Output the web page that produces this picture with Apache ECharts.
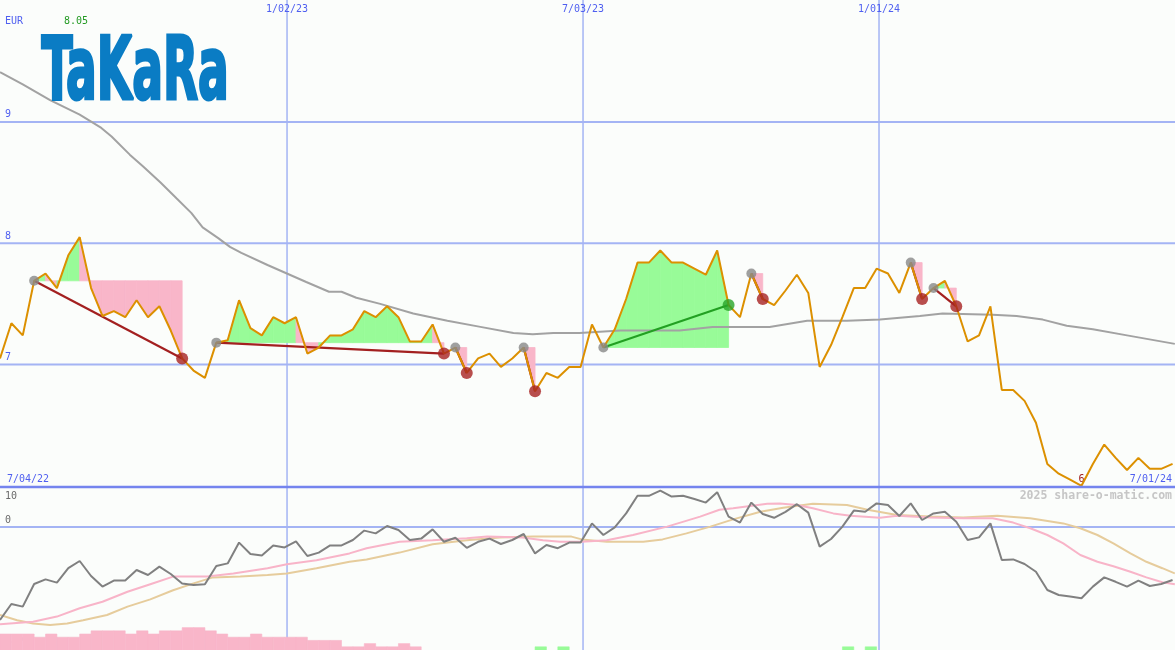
<!DOCTYPE html>
<html><head><meta charset="utf-8">
<script src="https://cdn.jsdelivr.net/npm/echarts@6/dist/echarts.min.js"></script>
<style>html,body{margin:0;padding:0;background:#fbfdfb;}#c{width:1175px;height:650px;}</style>
</head><body><div id="c"></div><script>
// ---------- DATA ----------
const firstWeek = '2022-07-09T12:00:00Z';
const rangeStartLabel = '7/04/22';
const rangeEndLabel = '7/01/24';
const rangeEnd = '2024-07-01T00:00:00Z';
const dateTickDates = ['2023-01-02T00:00:00Z','2023-07-03T00:00:00Z','2024-01-01T00:00:00Z'];
const dateTickLabels = ['1/02/23','7/03/23','1/01/24'];
const currency = 'EUR';
const logoText = 'TaKaRa';
const watermark = '2025 share-o-matic.com';
const priceTicks = [9, 8, 7];
const lowerTicks = [10, 0, -30];

const price = [7.05,7.34,7.24,7.69,7.75,7.63,7.90,8.05,7.63,7.40,
  7.44,7.39,7.53,7.39,7.48,7.28,7.05,6.95,6.89,7.18,
  7.20,7.53,7.30,7.24,7.39,7.34,7.39,7.09,7.14,7.24,
  7.24,7.29,7.44,7.39,7.48,7.39,7.19,7.19,7.33,7.09,
  7.14,6.93,7.05,7.09,6.98,7.05,7.14,6.78,6.93,6.89,
  6.98,6.98,7.33,7.14,7.29,7.54,7.84,7.84,7.94,7.84,
  7.84,7.79,7.74,7.94,7.49,7.39,7.75,7.54,7.49,7.61,
  7.74,7.59,6.98,7.16,7.39,7.63,7.63,7.79,7.75,7.59,
  7.84,7.54,7.63,7.69,7.48,7.19,7.24,7.48,6.79,6.79,
  6.70,6.52,6.18,6.10,6.05,6.00,6.18,6.34,6.23,6.13,
  6.23,6.14,6.14,6.18];

const priceAvg = [[0,9.41],[2.0,9.31],[4.4,9.18],[7.0,9.06],[8.9,8.95],[9.8,8.88],[11.4,8.73],[12.6,8.63],[14.1,8.50],[15.5,8.37],[16.8,8.25],[17.8,8.13],[19.2,8.04],[20.2,7.97],[21.2,7.92],[23.5,7.82],[25.2,7.75],[26.9,7.68],[28.9,7.60],[30.0,7.60],[31.3,7.55],[33.4,7.50],[36.3,7.42],[39.3,7.36],[42.2,7.31],[45.1,7.26],[46.8,7.25],[48.6,7.26],[50.9,7.26],[54.5,7.28],[59.7,7.28],[62.6,7.31],[67.6,7.31],[70.9,7.36],[74.4,7.36],[77.3,7.37],[80.8,7.40],[82.8,7.42],[87.2,7.41],[89.3,7.40],[91.6,7.37],[93.7,7.32],[96.0,7.29],[99.0,7.24],[103.2,7.17]];

const tradeStart = [3, 19, 40, 46, 53, 66, 80, 82];
const tradeEnd   = [16, 39, 41, 47, 64, 67, 81, 84];

const strength = [-23.25,-19.25,-19.9,-14.25,-13.1,-13.9,-10.3,-8.5,-12.25,-14.9,
  -13.4,-13.4,-10.75,-12,-9.9,-11.75,-14.1,-14.5,-14.3,-9.75,
  -9.1,-3.9,-6.75,-7.1,-4.6,-5.1,-3.6,-7.25,-6.4,-4.6,
  -4.6,-3.25,-0.9,-1.6,0.25,-0.75,-3.25,-2.9,-0.6,-3.7,
  -2.7,-5.2,-3.7,-2.9,-4.25,-3.25,-1.75,-6.6,-4.5,-5.3,
  -3.9,-3.9,0.9,-2.0,-0.1,3.4,7.8,7.8,9.1,7.6,
  7.8,7.0,6.1,8.7,2.6,1.1,6.1,3.25,2.3,3.8,
  5.7,3.6,-4.9,-3.0,0.1,4.1,3.8,5.9,5.5,2.75,
  5.9,1.75,3.4,3.8,1.3,-3.25,-2.6,0.9,-8.25,-8.1,
  -9.25,-11.2,-15.75,-17,-17.4,-17.8,-14.9,-12.6,-13.7,-14.9,
  -13.4,-14.75,-14.25,-13.25];

const strengthAvgFast = [[0,-24.3],[2.9,-23.7],[5.0,-22.4],[7.0,-20.3],[9.0,-18.7],[11.2,-16.2],[13.2,-14.3],[15.2,-12.4],[18.2,-12.4],[20.5,-11.6],[23.5,-10.3],[25.2,-9.3],[27.8,-8.3],[30.7,-6.6],[32.2,-5.3],[35.1,-3.7],[38.0,-3.3],[41.0,-2.8],[42.8,-2.4],[45.9,-2.6],[47.7,-3.3],[49.2,-3.7],[51.1,-3.7],[53.3,-3.3],[55.6,-2.0],[58.6,0.1],[61.5,2.6],[63.2,4.3],[64.4,4.7],[67.4,5.8],[68.5,5.9],[70.0,5.5],[71.4,4.7],[73.2,3.4],[74.7,2.8],[77.3,2.3],[78.8,2.8],[81.7,2.4],[84.6,2.2],[87.2,2.2],[89.0,1.1],[90.5,-0.3],[92.0,-2.0],[93.4,-4.1],[94.9,-7.0],[96.4,-8.7],[97.8,-9.8],[99.3,-11.2],[100.7,-12.6],[102.1,-13.8],[103.2,-14.3]];

const strengthAvgSlow = [[0,-22],[1.5,-23.3],[2.9,-24.1],[4.4,-24.5],[5.9,-24.1],[7.3,-23.3],[9.4,-22],[11.2,-19.9],[13.2,-18.1],[15.2,-15.8],[17.0,-14.1],[18.7,-12.6],[21.1,-12.4],[23.5,-12],[25.2,-11.6],[27.8,-10.3],[30.7,-8.7],[32.2,-8.1],[35.1,-6.4],[38.0,-4.3],[41.0,-3.3],[43.9,-2.6],[46.8,-2.4],[50.2,-2.4],[51.1,-3.1],[53.3,-3.7],[56.5,-3.7],[58.2,-3.1],[60.3,-1.6],[62.4,0.1],[64.4,1.9],[66.8,3.8],[68.8,4.8],[71.4,5.8],[74.4,5.5],[76.2,4.3],[78.8,3.0],[81.7,2.6],[84.6,2.4],[87.6,2.8],[90.5,2.2],[93.4,0.9],[94.9,-0.3],[96.4,-2.0],[97.8,-4.1],[99.3,-6.6],[100.7,-8.7],[102.1,-10.3],[103.2,-11.6]];

const signalBars = [-5,-5,-5,-4,-5,-4,-4,-5,-6,-6,-6,-5,-6,-5,-6,-6,-7,-7,-6,-5,
  -4,-4,-5,-4,-4,-4,-4,-3,-3,-3,-1,-1,-2,-1,-1,-2,-1,0,0,0,
  0,0,0,0,0,0,0,1,0,1,0,0,0,0,0,0,0,0,0,0,
  0,0,0,0,0,0,0,0,0,0,0,0,0,0,1,0,1,0,0,0,
  0,0,0,0,0,0,0,0,0,0,0,0,0,0,0,0,0,0,0,0,
  0,0,0,0];

// ---------- BUILD ----------
const DAY = 86400000;
const weekOf = d => (Date.parse(d) - Date.parse(firstWeek)) / (7 * DAY);
const xMax = weekOf(rangeEnd);
const dateTickPos = dateTickDates.map(weekOf);

const C = {
  grid: '#a4b4f4', sep: '#7484ee', blueText: '#4f5ff0', grayText: '#6a6a6a',
  pink: '#f9b6c9', green: '#98fb98', orange: '#dc9000', ma: '#a2a2a2',
  lossLine: '#a32020', winLine: '#22a022', lossDot: '#a82222', winDot: '#28a428', startDot: '#888888',
  strength: '#808080', fast: '#f8b4c8', slow: '#e6cc9c'
};
const MONO = '"DejaVu Sans Mono","Liberation Mono",monospace';

const fillSegs = [];
const tradeLines = [];
const endDots = [];
tradeStart.forEach((s, k) => {
  const e = tradeEnd[k], level = price[s];
  for (let i = s; i < e; i++) fillSegs.push([i, price[i], price[i + 1], level]);
  const win = price[e] > level;
  tradeLines.push([s, price[s], e, price[e], win ? 1 : 0]);
  endDots.push({ value: [e, price[e]], itemStyle: { color: win ? C.winDot : C.lossDot } });
});

const priceMax = Math.max(...price);

const chart = echarts.init(document.getElementById('c'), null, { renderer: 'canvas', width: 1175, height: 650 });

const xAx = gi => ({ type: 'value', gridIndex: gi, min: 0, max: xMax, show: false });

function vLines(withLabels) {
  return function (params, api) {
    const cs = params.coordSys;
    const x = api.coord([api.value(0), 0])[0];
    const ch = [{ type: 'line', shape: { x1: x, y1: cs.y, x2: x, y2: cs.y + cs.height }, style: { stroke: C.grid, lineWidth: 1.5 } }];
    if (withLabels) ch.push({ type: 'text', style: { text: dateTickLabels[params.dataIndex], x: x, y: 9, fill: C.blueText, font: '10px ' + MONO, textAlign: 'center', textVerticalAlign: 'middle' } });
    return { type: 'group', children: ch };
  };
}

const option = {
  animation: false,
  backgroundColor: '#fbfdfb',
  grid: [
    { left: 0, right: 0, top: 0, height: 487 },
    { left: 0, right: 0, top: 487, height: 163 },
    { left: 0, right: 0, top: 487, height: 163 }
  ],
  xAxis: [xAx(0), xAx(1), xAx(2)],
  yAxis: [
    { type: 'value', gridIndex: 0, min: 5.99, max: 10.005, show: false },
    { type: 'value', gridIndex: 1, min: -30.75, max: 10, show: false },
    { type: 'value', gridIndex: 2, min: 0, max: 51, show: false }
  ],
  series: [
    { type: 'custom', xAxisIndex: 0, yAxisIndex: 0, z: 1, silent: true,
      data: priceTicks.map(v => [0, v]),
      renderItem(params, api) {
        const cs = params.coordSys, v = api.value(1), y = api.coord([0, v])[1];
        return { type: 'group', children: [
          { type: 'line', shape: { x1: cs.x, y1: y, x2: cs.x + cs.width, y2: y }, style: { stroke: C.grid, lineWidth: 2 } },
          { type: 'text', style: { text: String(v), x: 5, y: y - 2, fill: C.blueText, font: '10px ' + MONO, textVerticalAlign: 'bottom' } }
        ] };
      } },
    { type: 'custom', xAxisIndex: 0, yAxisIndex: 0, z: 1, silent: true, data: dateTickPos.map(p => [p, 0]), renderItem: vLines(true) },
    { type: 'custom', xAxisIndex: 1, yAxisIndex: 1, z: 1, silent: true, data: dateTickPos.map(p => [p, 0]), renderItem: vLines(false) },
    { type: 'custom', xAxisIndex: 1, yAxisIndex: 1, z: 1, silent: true,
      data: lowerTicks.map(v => [0, v]),
      renderItem(params, api) {
        const cs = params.coordSys, v = api.value(1), y = api.coord([0, v])[1];
        const ch = [];
        if (v === 0) ch.push({ type: 'line', shape: { x1: cs.x, y1: y, x2: cs.x + cs.width, y2: y }, style: { stroke: C.grid, lineWidth: 2 } });
        const top = params.dataIndex === 0;
        ch.push({ type: 'text', style: { text: String(v), x: 5, y: top ? y + 4 : y - 2, fill: C.grayText, font: '10px ' + MONO, textVerticalAlign: top ? 'top' : 'bottom' } });
        return { type: 'group', children: ch };
      } },
    { type: 'custom', xAxisIndex: 0, yAxisIndex: 0, z: 2, silent: true, data: fillSegs,
      renderItem(params, api) {
        const i = api.value(0), a = api.value(1), b = api.value(2), L = api.value(3);
        const pts = [api.coord([i, L]), api.coord([i, a]), api.coord([i + 1, b]), api.coord([i + 1, L])];
        const col = b >= L ? C.green : C.pink;
        return { type: 'polygon', shape: { points: pts }, style: { fill: col, stroke: col, lineWidth: 0.8 } };
      } },
    { type: 'line', xAxisIndex: 0, yAxisIndex: 0, z: 3, data: priceAvg, showSymbol: false, silent: true,
      lineStyle: { color: C.ma, width: 2 } },
    { type: 'custom', xAxisIndex: 0, yAxisIndex: 0, z: 4, silent: true, data: tradeLines,
      renderItem(params, api) {
        const p0 = api.coord([api.value(0), api.value(1)]), p1 = api.coord([api.value(2), api.value(3)]);
        return { type: 'line', shape: { x1: p0[0], y1: p0[1], x2: p1[0], y2: p1[1] }, style: { stroke: api.value(4) ? C.winLine : C.lossLine, lineWidth: 2.2 } };
      } },
    { type: 'line', xAxisIndex: 0, yAxisIndex: 0, z: 5, data: price.map((v, i) => [i, v]), showSymbol: false, silent: true,
      lineStyle: { color: C.orange, width: 2 },
      markPoint: { symbol: 'circle', symbolSize: 0, silent: true,
        data: [{ type: 'min' }],
        label: { show: true, position: 'top', distance: 1, color: '#a02020', fontFamily: MONO, fontSize: 10,
          formatter: p => String(+(+p.value).toFixed(2)) } } },
    { type: 'scatter', xAxisIndex: 0, yAxisIndex: 0, z: 6, silent: true, symbolSize: 10,
      itemStyle: { color: C.startDot }, data: tradeStart.map(s => [s, price[s]]) },
    { type: 'scatter', xAxisIndex: 0, yAxisIndex: 0, z: 7, silent: true, symbolSize: 12, data: endDots },
    { type: 'custom', xAxisIndex: 2, yAxisIndex: 2, z: 2, silent: true, data: signalBars.map((v, i) => [i, v]),
      renderItem(params, api) {
        const i = api.value(0), v = api.value(1);
        if (!v) return { type: 'group', children: [] };
        const p0 = api.coord([i, 0]), p1 = api.coord([i + 1, Math.abs(v)]);
        const col = v < 0 ? C.pink : C.green;
        return { type: 'rect', shape: { x: p0[0], y: p1[1], width: p1[0] - p0[0], height: p0[1] - p1[1] + 2 }, style: { fill: col, stroke: col, lineWidth: 0.6 } };
      } },
    { type: 'line', xAxisIndex: 1, yAxisIndex: 1, z: 3, data: strengthAvgSlow, showSymbol: false, silent: true, lineStyle: { color: C.slow, width: 2 } },
    { type: 'line', xAxisIndex: 1, yAxisIndex: 1, z: 4, data: strengthAvgFast, showSymbol: false, silent: true, lineStyle: { color: C.fast, width: 2 } },
    { type: 'line', xAxisIndex: 1, yAxisIndex: 1, z: 5, data: strength.map((v, i) => [i, v]), showSymbol: false, silent: true, lineStyle: { color: C.strength, width: 2 } }
  ],
  graphic: []
};
chart.setOption(option);

const logoSize = 88;
const logoFont = 'bold ' + logoSize + 'px "Liberation Sans Narrow","DejaVu Sans Condensed","DejaVu Sans",sans-serif';
const mctx = document.createElement('canvas').getContext('2d');
mctx.font = logoFont;
const logoW = mctx.measureText(logoText).width + 3;
const logoScale = 189 / logoW;

chart.setOption({ graphic: [
  { type: 'line', silent: true, z: 8, shape: { x1: 0, y1: 487, x2: 1175, y2: 487 }, style: { stroke: C.sep, lineWidth: 2.4 } },
  { type: 'text', silent: true, z: 8, x: 41.5, y: 76, scaleX: logoScale, style: { text: logoText, x: 0, y: 0, font: logoFont, fill: '#0a7cc4', stroke: '#0a7cc4', lineWidth: 3, textVerticalAlign: 'middle' } },
  { type: 'text', silent: true, z: 8, style: { text: currency, x: 5, y: 21, font: '10px ' + MONO, fill: C.blueText, textVerticalAlign: 'middle' } },
  { type: 'text', silent: true, z: 8, style: { text: priceMax.toFixed(2), x: 64, y: 21, font: '10px ' + MONO, fill: '#229a22', textVerticalAlign: 'middle' } },
  { type: 'text', silent: true, z: 8, style: { text: rangeStartLabel, x: 7, y: 479, font: '10px ' + MONO, fill: C.blueText, textVerticalAlign: 'middle' } },
  { type: 'text', silent: true, z: 8, style: { text: rangeEndLabel, x: 1172, y: 479, font: '10px ' + MONO, fill: C.blueText, textAlign: 'right', textVerticalAlign: 'middle' } },
  { type: 'text', silent: true, z: 8, style: { text: watermark, x: 1172, y: 496, font: 'bold 11.5px ' + MONO, fill: '#c6c6c6', textAlign: 'right', textVerticalAlign: 'middle' } }
] });
</script></body></html>
